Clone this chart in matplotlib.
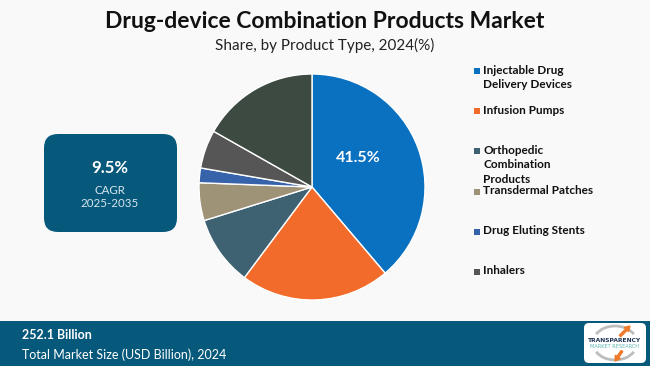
import matplotlib.pyplot as plt
from matplotlib.patches import FancyBboxPatch, Rectangle, Arc, FancyArrow

# ---- data ----
categories = [
  "Injectable Drug\nDelivery Devices",
  "Infusion Pumps",
  "Orthopedic\nCombination\nProducts",
  "Transdermal Patches",
  "Drug Eluting Stents",
  "Inhalers",
  "Others",
]
shares = [38.8, 21.4, 10.0, 5.4, 2.1, 5.5, 16.8]
main_label = "41.5%"
colors = ['#0A70C0', '#F36B2B', '#3E6272', '#9E9277', '#3763AA', '#565656', '#3D4A41']

cagr_value = "9.5%"
cagr_text = "CAGR\n2025-2035"
market_size = "252.1 Billion"
market_text = "Total Market Size (USD Billion), 2024"

W, H = 650, 366
bg = '#F9F9F9'
dark_teal = '#07597B'

fig = plt.figure(figsize=(W / 100, H / 100), dpi=100, facecolor=bg)

# overlay axes in pixel coordinates
ov = fig.add_axes([0, 0, 1, 1])
ov.set_xlim(0, W)
ov.set_ylim(H, 0)
ov.axis('off')

ov.text(W / 2, 21, "Drug-device Combination Products Market", ha='center', va='center',
        fontsize=16.5, fontweight='bold', family='Lato', color='#111111')
ov.text(W / 2, 45, "Share, by Product Type, 2024(%)", ha='center', va='center',
        fontsize=11, family='Lato', color='#222222')

# CAGR box
ov.add_patch(FancyBboxPatch((44, 134), 133, 98, boxstyle="round,pad=0,rounding_size=14",
                            facecolor=dark_teal, edgecolor='none'))
ov.text(110, 168, cagr_value, ha='center', va='center', fontsize=12,
        fontweight='bold', family='Lato', color='white')
ov.text(110, 197, cagr_text, ha='center', va='center', fontsize=8.3,
        family='Lato', color='#D8E6EE', linespacing=1.15)

# footer band
ov.add_patch(Rectangle((0, 321), W, 45, facecolor=dark_teal, edgecolor='none'))
ov.text(22, 335, market_size, ha='left', va='center', fontsize=9,
        fontweight='bold', family='Lato', color='white')
ov.text(22, 355, market_text, ha='left', va='center', fontsize=9,
        family='Lato', color='white')

# logo
ov.add_patch(FancyBboxPatch((584, 323), 62, 40, boxstyle="round,pad=0,rounding_size=5",
                            facecolor='white', edgecolor='none'))
ov.add_patch(Arc((615, 343), 44, 34, theta1=25, theta2=155, color='#BDBDBD', lw=2))
ov.add_patch(Arc((615, 343), 44, 34, theta1=205, theta2=335, color='#BDBDBD', lw=2))
ov.add_patch(FancyArrow(620, 336, 10, -10, width=2, head_width=6, head_length=5,
                        color='#F07A2A', length_includes_head=True))
ov.add_patch(FancyArrow(622, 351, -7, 10, width=2, head_width=6, head_length=5,
                        color='#F07A2A', length_includes_head=True))
ov.text(615, 341, "TRANSPARENCY", ha='center', va='center', fontsize=4.3,
        fontweight='bold', family='DejaVu Sans', color='#1F3557')
ov.text(615, 347, "MARKET RESEARCH", ha='center', va='center', fontsize=3.6,
        family='DejaVu Sans', color='#5FB4B0')

# legend
legend_y = [71, 111, 151, 192, 232, 272]
for i in range(6):
  ov.add_patch(Rectangle((473.5, legend_y[i] - 3), 6, 6, facecolor=colors[i], edgecolor='none'))
  ov.text(483, legend_y[i] - 6.5, categories[i], ha='left', va='top', fontsize=8.5,
          fontweight='bold', family='Lato', color='#111111', linespacing=1.4)

# pie
cx, cy, r = 312, 187, 113
ax = fig.add_axes([(cx - r) / W, (H - cy - r) / H, 2 * r / W, 2 * r / H])
ax.pie(shares, colors=colors, startangle=90, counterclock=False, radius=1,
       wedgeprops=dict(edgecolor='white', linewidth=1))
ax.set_xlim(-1, 1)
ax.set_ylim(-1, 1)
ax.axis('off')
ax.text(0.41, 0.26, main_label, ha='center', va='center', fontsize=11.5,
        fontweight='bold', family='Lato', color='white')

fig.savefig("out.png", dpi=100, facecolor=bg)
